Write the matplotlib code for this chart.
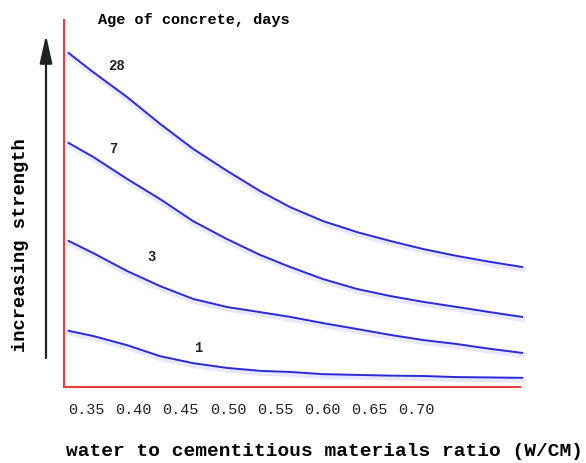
import matplotlib
matplotlib.use("Agg")
import matplotlib.pyplot as plt
import matplotlib.patheffects as pe

# W/CM ratio sampled along the curves
WCM = [0.331, 0.357, 0.393, 0.428, 0.463, 0.499, 0.534, 0.566,
       0.601, 0.637, 0.672, 0.707, 0.743, 0.778, 0.812]

# relative strength (axis top = 100)
DAY_28 = [91.0, 85.8, 79.0, 71.7, 64.9, 58.9, 53.4, 49.0,
          45.2, 42.2, 39.8, 37.6, 35.7, 34.1, 32.7]
DAY_7 = [66.5, 62.7, 56.7, 51.2, 45.2, 40.3, 36.0, 32.7,
         29.4, 26.7, 24.8, 23.2, 21.8, 20.4, 19.1]
DAY_3 = [39.8, 36.5, 31.6, 27.5, 24.0, 21.8, 20.4, 19.1,
         17.4, 15.8, 14.2, 12.8, 11.7, 10.4, 9.3]
DAY_1 = [15.3, 13.9, 11.4, 8.4, 6.5, 5.2, 4.4, 4.1,
         3.5, 3.3, 3.1, 3.0, 2.7, 2.6, 2.5]

CURVE_LABELS = ["28", "7", "3", "1"]
TICKS = [0.35, 0.40, 0.45, 0.50, 0.55, 0.60, 0.65, 0.70]
TICK_LABELS = ["0.35", "0.40", "0.45", "0.50", "0.55", "0.60", "0.65", "0.70"]

MONO = "Liberation Mono"
BLUE = "#2b2bd6"
RED = "#ee3a3a"


def main():
    """Draw the strength vs W/CM sketch"""

    fig = plt.figure(figsize=(5.86, 4.64), dpi=100)
    ax = fig.add_axes([64 / 586, 76 / 464, 456 / 586, 367 / 464])

    shadow = [pe.SimpleLineShadow(offset=(0.3, -1.5), shadow_color="#7a7aff",
                                  alpha=0.18, linewidth=4),
              pe.Normal()]
    series = [DAY_28, DAY_7, DAY_3, DAY_1]
    for values in series:
        ax.plot(WCM, values, color=BLUE, lw=1.4, clip_on=False,
                solid_joinstyle="round", path_effects=shadow)

    # curve labels (x, y in data units)
    label_pos = [(0.382, 87.7), (0.378, 65.1), (0.4195, 35.7), (0.468, 10.9)]
    for text, (x, y) in zip(CURVE_LABELS, label_pos):
        ax.text(x, y, text, fontsize=10, fontweight="bold", family=MONO,
                ha="center", va="center", color="#222222")

    ax.set_xlim(0.3261, 0.8098)
    ax.set_ylim(0, 100)
    ax.set_xticks(TICKS)
    ax.set_xticklabels(TICK_LABELS, family=MONO, fontsize=11, color="#222222")
    ax.set_yticks([])
    ax.tick_params(axis="x", length=0, pad=11)
    for side in ["top", "right"]:
        ax.spines[side].set_visible(False)
    for side in ["left", "bottom"]:
        ax.spines[side].set_color(RED)
        ax.spines[side].set_linewidth(1.5)

    fig.text(98 / 586, 1 - 20 / 464, "Age of concrete, days", family=MONO,
             fontsize=11, fontweight="bold", ha="left", va="center")
    fig.text(325 / 586, 1 - 452 / 464,
             "water to cementitious materials ratio (W/CM)", family=MONO,
             fontsize=14, fontweight="bold", ha="center", va="center")
    fig.text(21 / 586, 1 - 245 / 464, "increasing strength", family=MONO,
             fontsize=13.5, fontweight="bold", rotation=90,
             ha="center", va="center")

    ax.annotate("", xy=(46, 464 - 36), xytext=(46, 464 - 359),
                xycoords="figure pixels", textcoords="figure pixels",
                arrowprops=dict(arrowstyle="-|>,head_length=1.7,head_width=0.38",
                                mutation_scale=10, color="#222222", lw=1.6,
                                shrinkA=0, shrinkB=0))

    fig.savefig("out.png", dpi=100)


if __name__ == "__main__":
    main()
